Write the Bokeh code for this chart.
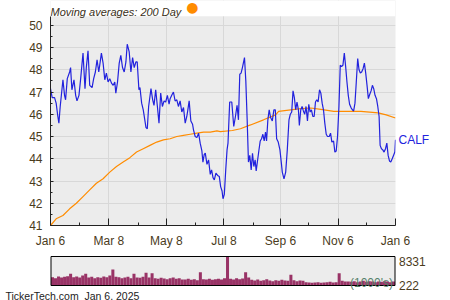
import pandas as pd
from bokeh.plotting import figure
from bokeh.layouts import column
from bokeh.models import Range1d, FixedTicker, Label, LinearAxis
from bokeh.embed import file_html
from bokeh.resources import INLINE

start = pd.Timestamp("2024-01-06")
tick_dates = ["2024-01-06", "2024-03-08", "2024-05-08", "2024-07-08", "2024-09-06", "2024-11-06", "2025-01-06"]
tick_labels = ["Jan 6", "Mar 8", "May 8", "Jul 8", "Sep 6", "Nov 6", "Jan 6"]
minor_dates = ["2024-02-06", "2024-04-08", "2024-06-08", "2024-08-08", "2024-10-06", "2024-12-06"]
y_ticks = [41, 42, 43, 44, 45, 46, 47, 48, 49, 50]
y_minor = [41.5, 42.5, 43.5, 44.5, 45.5, 46.5, 47.5, 48.5, 49.5]

# days since Jan 6, 2024
price_day = [0, 1.8, 4.3, 6.0, 7.8, 8.9, 10.3, 13.2, 14.9, 16.0, 17.8, 20.3, 21.3, 22.7, 24.9, 26.7, 28.1, 30.2, 32.0, 34.5,
             36.6, 38.0, 39.8, 41.6, 44.1, 45.8, 47.6, 49.4, 51.2, 52.2, 54.0, 55.8, 57.6, 59.3, 61.1, 62.9, 64.7, 66.5, 68.2, 69.3,
             71.1, 72.9, 74.6, 76.4, 78.2, 80.0, 81.4, 83.5, 85.3, 87.1, 88.8, 90.6, 92.0, 93.8, 94.9, 96.7, 98.4, 101.3, 102.7, 104.1,
             106.6, 108.4, 109.8, 111.6, 113.4, 115.1, 116.9, 118.7, 120.5, 122.2, 124.0, 125.8, 126.9, 128.6, 130.4, 132.2, 134.0, 135.7, 137.5, 139.3,
             141.1, 142.9, 144.6, 145.7, 147.1, 148.9, 150.7, 151.7, 153.5, 155.3, 157.1, 158.8, 160.6, 161.7, 163.1, 164.2, 166.0, 167.7, 169.5, 170.9,
             172.4, 173.8, 175.5, 177.3, 179.1, 180.5, 182.0, 183.0, 184.4, 185.9, 187.3, 188.3, 190.1, 192.3, 194.4, 196.2, 197.9, 199.4,
             200.8, 202.2, 203.6, 205.8, 207.2, 208.6, 210.0, 211.4, 212.9, 214.3, 215.7, 217.1, 218.2, 219.6, 221.0, 222.5, 223.9, 225.3, 226.7, 228.1,
             229.2, 230.6, 232.0, 233.5, 235.3, 237.0, 238.5, 239.9, 241.6, 243.4, 244.8, 245.9, 247.7, 249.5, 251.2, 253.0, 254.4, 255.9, 257.3, 258.7,
             260.1, 261.5, 263.0, 264.0, 265.5, 266.9, 268.3, 269.7, 271.1, 272.6, 274.0, 275.4, 276.8, 278.3, 279.7, 281.1, 282.5, 283.9, 285.4, 286.8,
             288.2, 289.6, 291.0, 292.5, 293.9, 295.7, 297.1, 298.5, 300.3, 301.7, 303.1, 304.5, 306.0, 307.4, 308.8, 310.2, 311.7, 313.1, 314.5, 315.9,
             317.3, 318.8, 320.2, 321.6, 323.0, 324.4, 325.9, 327.3, 328.7, 330.1, 331.6, 333.0, 334.4, 335.8, 337.2, 338.7, 340.1, 341.5, 342.9, 344.3,
             345.8, 347.2, 348.6, 349.7, 351.1, 352.5, 353.9, 355.4, 356.8, 358.2, 359.6, 361.0, 362.5, 363.9, 365.3, 366.0]
price = [47.15, 46.75, 46.75, 46.5, 45.9, 45.6, 46.35, 47.55, 46.85, 46.65, 47.6, 47.9, 48.1, 47.1, 47.55, 46.85, 46.6, 46.85, 47.6, 48.75,
         47.15, 48.1, 48.85, 47.3, 47.2, 47.6, 47.9, 48.45, 47.9, 48.2, 48.75, 48.3, 47.55, 47.85, 47.45, 47.6, 47.4, 47.3, 47.45, 46.95,
         47.45, 48.3, 48.65, 48.1, 47.9, 48.35, 49.15, 48.8, 47.9, 48.55, 48.1, 48.35, 48.35, 47.1, 47.2, 46.5, 46.2, 45.4, 45.35, 46.35,
         47.15, 46.65, 46.4, 47.1, 46.35, 45.6, 46.95, 46.35, 46.6, 46.55, 46.85, 46.45, 46.7, 46.85, 47.0, 46.6, 46.65, 46.35, 46.6, 46.1,
         46.3, 45.6, 45.9, 46.2, 46.6, 45.7, 45.55, 45.3, 45.0, 44.95, 45.15, 44.7, 44.35, 43.85, 44.2, 44.25, 43.75, 43.95, 43.3, 43.5,
         43.15, 43.05, 43.35, 43.25, 43.2, 42.75, 42.55, 42.2, 42.4, 43.5, 44.4, 44.7, 46.55, 46.55, 45.45, 45.9, 46.4, 45.75,
         47.8, 47.85, 48.1, 48.55, 47.5, 45.8, 43.85, 44.15, 43.5, 44.25, 43.65, 43.95, 43.45, 43.9, 44.35, 44.8, 44.9, 45.1, 44.8, 45.2,
         44.8, 45.75, 46.2, 45.85, 45.7, 46.2, 46.2, 44.9, 44.75, 44.4, 43.85, 43.4, 43.1, 43.4, 44.4, 45.75, 46.0, 46.1, 47.05, 46.75,
         46.2, 46.55, 46.2, 45.5, 46.2, 46.35, 46.15, 46.0, 46.35, 45.7, 46.45, 46.1, 46.2, 45.9, 45.9, 46.55, 46.65, 46.55, 47.1, 46.95,
         46.5, 46.2, 45.6, 45.1, 45.0, 45.0, 45.15, 44.75, 44.8, 44.3, 44.35, 45.0, 46.35, 48.2, 48.15, 48.2, 48.75, 48.15, 47.45, 46.85,
         46.45, 46.3, 46.2, 46.15, 46.5, 47.45, 48.5, 48.0, 47.85, 47.9, 48.05, 48.3, 47.85, 47.3, 46.7, 46.9, 47.05, 47.3, 47.15, 46.85,
         46.7, 46.35, 45.9, 44.6, 44.45, 44.4, 44.3, 44.45, 44.7, 44.15, 43.9, 43.85, 44.0, 44.15, 44.3, 44.85]

ma_day = [0, 6.0, 13.2, 20.3, 27.4, 34.5, 41.6, 48.7, 55.8, 62.9, 70.0, 77.1, 84.2, 91.3, 98.4, 105.5, 112.7, 119.8, 126.9,
          134.0, 141.1, 148.2, 155.3, 162.4, 169.5, 176.6, 180.2, 193.0, 201.5, 212.2, 226.0, 238.8, 242.0, 254.8, 265.5,
          276.1, 286.8, 300.6, 329.4, 347.6, 356.1, 366.0]
ma200 = [41.0, 41.3, 41.45, 41.75, 42.0, 42.3, 42.6, 42.9, 43.1, 43.4, 43.65, 43.85, 44.05, 44.3, 44.45, 44.6, 44.75, 44.85, 44.9,
         45.0, 45.05, 45.1, 45.15, 45.2, 45.2, 45.25, 45.22, 45.27, 45.35, 45.52, 45.75, 45.97, 46.13, 46.2, 46.25,
         46.28, 46.22, 46.13, 46.13, 46.06, 45.97, 45.83]

volume_k = [2390, 2100, 2580, 2300, 2490, 2680, 3350, 2390, 2580, 2300, 2870,
            3350, 2300, 2490, 2100, 2390, 2200, 2580, 2390, 2870, 4590, 2490,
            2390, 2100, 2300, 2490, 2100, 3350, 2300, 2200, 2490, 3640, 2300,
            3540, 2100, 1910, 2200, 2010, 1820, 2100, 2300, 1910, 2100, 1720,
            1720, 1910, 1630, 1820, 1530, 3830, 1820, 1720, 1910, 1630, 1820,
            1910, 1720, 2100, 8331,
            1910, 1720, 2100, 1820, 2010, 3830, 2300,
            1630, 1440, 1720, 1340, 1530, 1820, 1440, 1240, 1530, 1340, 1630,
            1440, 1340, 3060, 1530, 1240, 1440, 1340,
            960, 860, 770, 860, 960, 770, 860, 960, 1050, 860, 960,
            3540, 1340, 1150,
            1150, 1050, 1240, 960, 1150, 1340, 1050, 1240, 1150, 960, 1150, 1050, 1240, 1150, 960, 1150]
vol_max = 8331
vol_min = 222

tick_days = [int((pd.Timestamp(d) - start).days) for d in tick_dates]
minor_days = [int((pd.Timestamp(d) - start).days) for d in minor_dates]
span = tick_days[-1]

FONT = "Liberation Sans"
LABEL_COLOR = "#4a3b1c"
BG = "#ececec"

# ---- layout geometry (pixels) ----
W = 450
P1_H = 250
FRAME_L, FRAME_R = 50.5, 394.5      # plot area left / right edge
P1_TOP_GAP = 16                     # white band above price plot area
P1_BOTTOM = 23                      # room for the date labels
y_lo, y_hi = 41, 50.4
px_day = (FRAME_R - FRAME_L) / span
px_unit = (P1_H - P1_BOTTOM - P1_TOP_GAP) / (y_hi - y_lo)
y_top = y_hi + P1_TOP_GAP / px_unit

p1 = figure(width=W, height=P1_H, x_range=Range1d(0, span), y_range=Range1d(y_lo, y_top),
            output_backend="svg", toolbar_location=None,
            min_border_left=50, min_border_right=int(W - FRAME_R), min_border_top=0, min_border_bottom=P1_BOTTOM)
p1.background_fill_color = BG
p1.border_fill_color = "white"
p1.outline_line_color = None
p1.xgrid.grid_line_color = "#d8d8d8"
p1.ygrid.grid_line_color = "#d8d8d8"

p1.xaxis.ticker = FixedTicker(ticks=tick_days, minor_ticks=minor_days)
p1.xaxis.major_label_overrides = {d: l for d, l in zip(tick_days, tick_labels)}
p1.yaxis.ticker = FixedTicker(ticks=y_ticks, minor_ticks=y_minor)
p1.yaxis.bounds = (y_lo, y_hi)
for ax in (p1.xaxis, p1.yaxis):
    ax.axis_line_color = "#222222"
    ax.major_tick_line_color = "#222222"
    ax.minor_tick_line_color = "#222222"
    ax.major_tick_out = 0
    ax.minor_tick_out = 0
    ax.major_label_text_font = FONT
    ax.major_label_text_font_size = "12px"
    ax.major_label_text_color = LABEL_COLOR
    ax.major_label_standoff = 8
p1.xaxis.major_tick_in = 7
p1.xaxis.minor_tick_in = 3
p1.yaxis.major_tick_in = 3
p1.yaxis.minor_tick_in = 2

# white band above the plot area (holds the legend text)
p1.quad(left=0, right=span, bottom=y_hi, top=y_top, fill_color="white", line_color=None)

p1.line(ma_day, ma200, line_color="#ff8c00", line_width=1.2)
p1.line(price_day, price, line_color="#2222dd", line_width=1.2)

# ticker name on the right, at the last price
name_axis = LinearAxis(ticker=FixedTicker(ticks=[price[-1]]), major_label_overrides={price[-1]: "CALF"})
name_axis.axis_line_color = None
name_axis.major_tick_line_color = None
name_axis.minor_tick_line_color = None
name_axis.major_tick_out = 0
name_axis.major_tick_in = 0
name_axis.minor_tick_out = 0
name_axis.minor_tick_in = 0
name_axis.major_label_standoff = 3
name_axis.major_label_text_font = FONT
name_axis.major_label_text_font_size = "12px"
name_axis.major_label_text_color = "#2222dd"
p1.add_layout(name_axis, "right")

# legend text in the top band
p1.add_layout(Label(x=0, y=y_hi + 4.3 / px_unit, text="Moving averages: 200 Day", text_font=FONT,
                    text_font_size="11px", text_font_style="italic", text_color="#3a3020",
                    text_baseline="alphabetic", text_align="left"))
p1.add_layout(Label(x=141.5 / px_day, y=y_hi + 9 / px_unit, text="\u25cf", text_font="DejaVu Sans",
                    text_font_size="14px", text_color="#ff8c00", text_baseline="middle", text_align="center"))

# ---- volume panel: whole canvas is the frame ----
P2_H = 50
BOX_TOP, BOX_BOTTOM = 6, 35          # box edges inside this panel
px_k = (BOX_BOTTOM - BOX_TOP) / vol_max
x2_lo = -FRAME_L / px_day
x2_hi = span + (W - FRAME_R) / px_day
y2_lo = -(P2_H - BOX_BOTTOM) / px_k
y2_hi = vol_max + BOX_TOP / px_k

n = len(volume_k)
w = span / n
vol_x = [(i + 0.5) * w for i in range(n)]

p2 = figure(width=W, height=P2_H, frame_width=W, frame_height=P2_H, title=None,
            x_range=Range1d(x2_lo, x2_hi), y_range=Range1d(y2_lo, y2_hi),
            x_axis_location=None, y_axis_location=None, output_backend="svg", toolbar_location=None,
            min_border_left=0, min_border_right=0, min_border_top=0, min_border_bottom=0)
try:
    p1.frame_align = False
    p2.frame_align = False
except Exception:
    pass
p2.background_fill_color = "white"
p2.border_fill_color = "white"
p2.outline_line_color = None
p2.grid.visible = False
p2.quad(left=0, right=span, bottom=0, top=vol_max, fill_color=BG, line_color=None)
p2.vbar(x=vol_x, top=volume_k, bottom=0, width=w, fill_color="#993366", line_color=None)
p2.quad(left=0, right=span, bottom=0, top=vol_max, fill_color=None, line_color="black", line_width=1)

p2.add_layout(Label(x=span, y=vol_max, x_offset=4, text=str(vol_max), text_font=FONT, text_font_size="12px",
                    text_color=LABEL_COLOR, text_baseline="top", text_align="left"))
p2.add_layout(Label(x=span, y=0, x_offset=4, text=str(vol_min), text_font=FONT, text_font_size="12px",
                    text_color=LABEL_COLOR, text_baseline="alphabetic", text_align="left"))
p2.add_layout(Label(x=span - 2 / px_day, y=2.5 / px_k, text="(1000's)", text_font=FONT, text_font_size="12px",
                    text_color="#55806a", text_baseline="alphabetic", text_align="right"))
p2.add_layout(Label(x=(5 - FRAME_L) / px_day, y=-10.5 / px_k, text="TickerTech.com\u00a0\u00a0Jan 6, 2025",
                    text_font=FONT, text_font_size="10.5px", text_color="#222222",
                    text_baseline="alphabetic", text_align="left"))

layout = column(p1, p2)
open("out.html", "w").write(file_html(layout, INLINE))
